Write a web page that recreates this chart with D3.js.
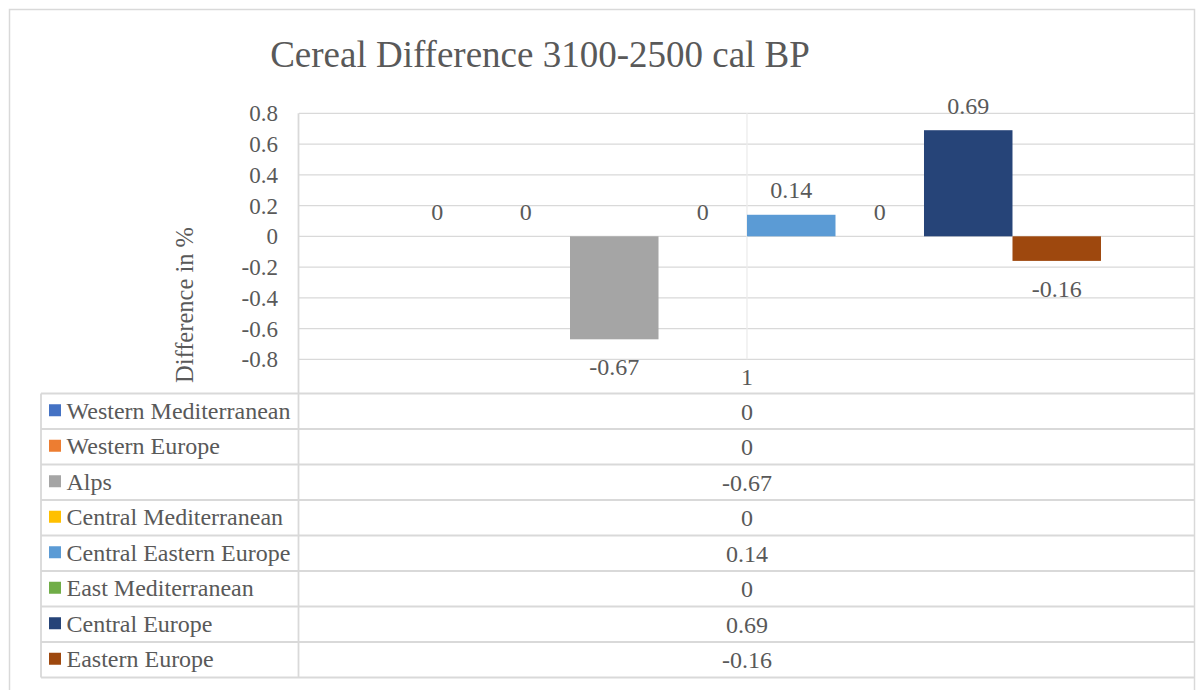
<!DOCTYPE html>
<html>
<head>
<meta charset="utf-8">
<script src="https://cdn.jsdelivr.net/npm/d3@7"></script>
<style>
  html, body { margin: 0; padding: 0; background: #fff; }
  svg { display: block; }
  text { font-family: "Liberation Serif", "Times New Roman", serif; fill: #595959; }
</style>
</head>
<body>
<svg id="chart" width="1196" height="690"></svg>
<script>
// ---- data ----
const categories = ["1"];
const seriesNames = ["Western Mediterranean", "Western Europe", "Alps", "Central Mediterranean",
  "Central Eastern Europe", "East Mediterranean", "Central Europe", "Eastern Europe"];
const seriesValues = [0, 0, -0.67, 0, 0.14, 0, 0.69, -0.16];
const valueLabels = ["0", "0", "-0.67", "0", "0.14", "0", "0.69", "-0.16"];
const yTicks = [0.8, 0.6, 0.4, 0.2, 0, -0.2, -0.4, -0.6, -0.8];
const yTickLabels = ["0.8", "0.6", "0.4", "0.2", "0", "-0.2", "-0.4", "-0.6", "-0.8"];
const titleText = "Cereal Difference 3100-2500 cal BP";
const yAxisTitle = "Difference in %";

// ---- styles ----
const seriesColors = ["#4472C4", "#ED7D31", "#A5A5A5", "#FFC000", "#5B9BD5", "#70AD47", "#264478", "#9E480E"];
const gridColor = "#d9d9d9";

// ---- layout ----
const plotLeft = 299, plotRight = 1195, plotTop = 113.3, plotBottom = 359.3;
const tableLeft = 41, headerBottom = 393.5, rowH = 35.5;

const svg = d3.select("#chart");

// outer border
svg.append("rect").attr("x", 9.5).attr("y", 9.5).attr("width", 1185).attr("height", 692)
  .attr("fill", "none").attr("stroke", gridColor).attr("stroke-width", 1.5);

// title
svg.append("text").attr("x", 540).attr("y", 67).attr("text-anchor", "middle")
  .style("font-size", "37px").text(titleText);

// scales
const y = d3.scaleLinear().domain([-0.8, 0.8]).range([plotBottom, plotTop]);
const x0 = d3.scaleBand().domain(categories).range([plotLeft, plotRight]).paddingInner(0).paddingOuter(0.1328);
const x1 = d3.scaleBand().domain(seriesNames).range([0, x0.bandwidth()]).padding(0);

// gridlines
svg.append("g").selectAll("line").data(yTicks).join("line")
  .attr("x1", plotLeft).attr("x2", plotRight)
  .attr("y1", d => y(d)).attr("y2", d => y(d))
  .attr("stroke", gridColor).attr("stroke-width", 1.3);

// y axis tick labels via d3 axis
const yAxis = d3.axisLeft(y).tickValues(yTicks).tickSize(0).tickPadding(0)
  .tickFormat((d, i) => yTickLabels[i]);
const gy = svg.append("g").attr("transform", `translate(278,0)`).call(yAxis);
gy.select(".domain").remove();
gy.selectAll("text").attr("fill", "#595959").style("font-size", "23px")
  .style("font-family", '"Liberation Serif", "Times New Roman", serif').attr("dy", "0.33em");

// vertical center line of category
const catCenter = x0(categories[0]) + x0.bandwidth() / 2;
svg.append("line").attr("x1", catCenter).attr("x2", catCenter).attr("y1", plotTop).attr("y2", plotBottom)
  .attr("stroke", "#ececec").attr("stroke-width", 1.3);

// bars
const g = svg.append("g").attr("transform", `translate(${x0(categories[0])},0)`);
g.selectAll("rect").data(seriesValues).join("rect")
  .attr("x", (d, i) => x1(seriesNames[i]))
  .attr("width", x1.bandwidth())
  .attr("y", d => y(Math.max(0, d)))
  .attr("height", d => Math.abs(y(d) - y(0)))
  .attr("fill", (d, i) => seriesColors[i]);

// data labels
g.selectAll("text.lbl").data(seriesValues).join("text").attr("class", "lbl")
  .attr("x", (d, i) => x1(seriesNames[i]) + x1.bandwidth() / 2)
  .attr("y", d => d < 0 ? y(d) + 36 : y(d) - 16.7)
  .attr("text-anchor", "middle").style("font-size", "24px")
  .text((d, i) => valueLabels[i]);

// y axis title
svg.append("text").attr("transform", `translate(193,305) rotate(-90)`)
  .attr("text-anchor", "middle").style("font-size", "24.5px").text(yAxisTitle);

// ---- data table ----
const tableBottom = headerBottom + rowH * seriesNames.length;
// header label
svg.append("text").attr("x", catCenter).attr("y", 385).attr("text-anchor", "middle")
  .style("font-size", "24px").text(categories[0]);

// row lines
const rowLines = d3.range(seriesNames.length + 1).map(i => headerBottom + i * rowH);
svg.append("g").selectAll("line").data(rowLines).join("line")
  .attr("x1", tableLeft).attr("x2", plotRight)
  .attr("y1", d => d).attr("y2", d => d)
  .attr("stroke", gridColor).attr("stroke-width", 1.8);

// vertical lines
svg.append("line").attr("x1", tableLeft).attr("x2", tableLeft).attr("y1", headerBottom).attr("y2", tableBottom)
  .attr("stroke", gridColor).attr("stroke-width", 1.8);
svg.append("line").attr("x1", plotLeft - 0.5).attr("x2", plotLeft - 0.5).attr("y1", plotTop).attr("y2", tableBottom)
  .attr("stroke", gridColor).attr("stroke-width", 1.8);

// rows
const rows = svg.append("g").selectAll("g").data(seriesNames).join("g")
  .attr("transform", (d, i) => `translate(0,${headerBottom + i * rowH})`);
rows.append("rect").attr("x", 49).attr("y", rowH / 2 - 7).attr("width", 12).attr("height", 12)
  .attr("fill", (d, i) => seriesColors[i]);
rows.append("text").attr("x", 66.5).attr("y", rowH / 2 + 7.5)
  .style("font-size", "24px").text(d => d);
rows.append("text").attr("x", catCenter).attr("y", rowH / 2 + 8.3).attr("text-anchor", "middle")
  .style("font-size", "24px").text((d, i) => valueLabels[i]);
</script>
</body>
</html>
